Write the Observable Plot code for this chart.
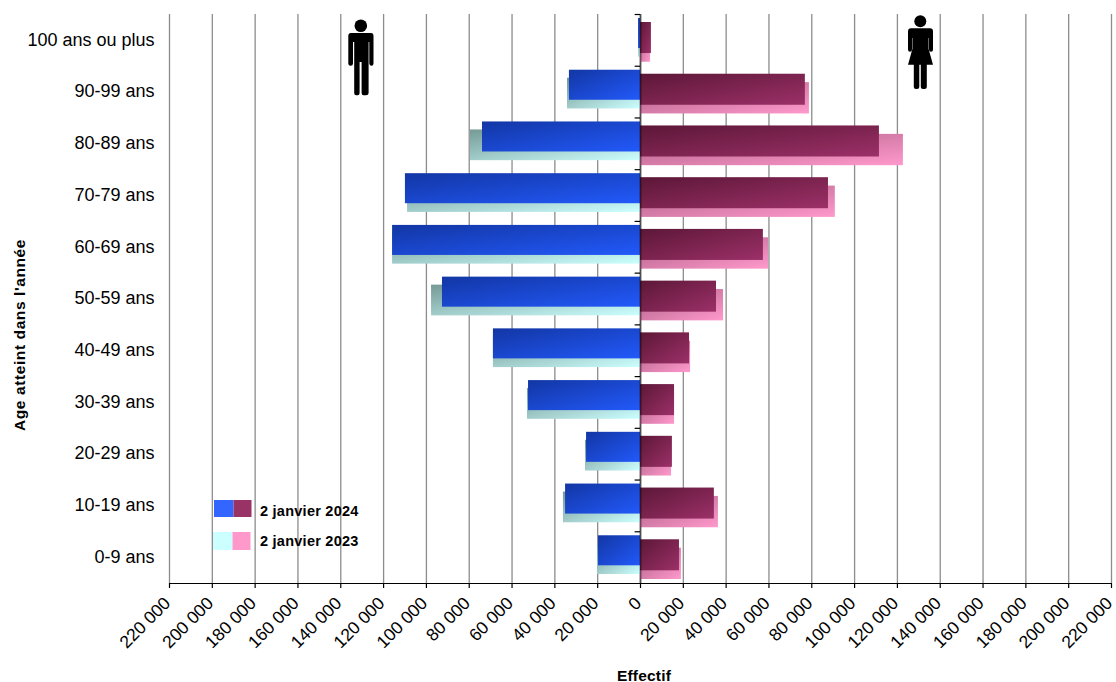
<!DOCTYPE html>
<html><head><meta charset="utf-8">
<script src="https://cdn.jsdelivr.net/npm/d3@7"></script>
<script src="https://cdn.jsdelivr.net/npm/@observablehq/plot@0.6"></script>
<style>html,body{margin:0;padding:0;background:#fff}svg{display:block}</style>
</head><body><div id="chart"></div>
<script>
const ages = ["100 ans ou plus","90-99 ans","80-89 ans","70-79 ans","60-69 ans","50-59 ans","40-49 ans","30-39 ans","20-29 ans","10-19 ans","0-9 ans"];
const male2024 = [900,33200,73800,109800,115800,92500,68700,52300,25200,35000,19600];
const male2023 = [900,34100,79400,108800,115800,97600,68700,52800,25700,36000,20100];
const female2024 = [5100,77000,111600,87800,57400,35500,22900,15900,14900,34500,18200];
const female2023 = [4700,78900,122800,91000,59800,38800,23400,15900,14500,36400,19100];
const xTicks = [-220000,-200000,-180000,-160000,-140000,-120000,-100000,-80000,-60000,-40000,-20000,0,20000,40000,60000,80000,100000,120000,140000,160000,180000,200000,220000];
const legendLabels = ["2 janvier 2024","2 janvier 2023"];
const xTitle = "Effectif";
const yTitle = "Age atteint dans l'année";
const gradients = {
  m24:["#1236a4","#2259fa"], m23:["#769a96","#ccffff"],
  f24:["#5c1737","#9c3068"], f23:["#ad5f85","#ff99cc"]
};
const font = "'Liberation Sans', Arial, sans-serif";
const fmt = d => d3.format(",")(Math.abs(d)).replace(/,/g," ");

function defs(){
  const d = d3.create("svg:defs");
  for (const [id,[a,b]] of Object.entries(gradients)){
    const g = d.append("linearGradient").attr("id",id).attr("x1",0).attr("y1",0).attr("x2",1).attr("y2",1);
    g.append("stop").attr("offset","0%").attr("stop-color",a);
    g.append("stop").attr("offset","100%").attr("stop-color",b);
  }
  return d.node();
}
function annotations(){
  const g = d3.create("svg:g").attr("text-anchor","start");
  const man = g.append("g").attr("fill","#000");
  man.append("circle").attr("cx",360.8).attr("cy",25.7).attr("r",6.3);
  man.append("path").attr("d","M351 33H371Q373.5 33 373.5 36V63.5Q373.5 65.8 371.5 65.8Q369.6 65.8 369.3 63.5V42H368.6V93Q368.6 95.2 366 95.2H363.6Q361.6 95.2 361.6 93V62H359.6V93Q359.6 95.2 357.6 95.2H356.2Q354.2 95.2 354.2 93V42H353V63.5Q353 65.8 350.6 65.8Q348.3 65.8 348.3 63.5V36Q348.3 33 351 33Z");
  const woman = g.append("g").attr("fill","#000");
  woman.append("circle").attr("cx",920.3).attr("cy",21.3).attr("r",6);
  woman.append("path").attr("d","M911 28.3H930Q933 28.3 933 31.5V49.5Q933 51.7 931 51.7Q929 51.7 929 49.5V38H928.6V49L933 64.7H926.8V87Q926.8 89 924.5 89H923Q920.8 89 920.8 87V64.7H919.3V87Q919.3 89 917 89H916Q913.8 89 913.8 87V64.7H908L912.4 49V38H912V49.5Q912 51.7 910 51.7Q908 51.7 908 49.5V31.5Q908 28.3 911 28.3Z");
  const swatches = [
    [[214,500,19.5,17,"#3366ff"],[233.5,500,18,17,"#993366"]],
    [[213,532,19.5,18,"#ccffff"],[232.5,532,18,18,"#ff99cc"]]
  ];
  swatches.forEach((row,i)=>{
    row.forEach(([x,y,w,h,c])=>g.append("rect").attr("x",x).attr("y",y).attr("width",w).attr("height",h).attr("fill",c));
    g.append("text").attr("x",260).attr("y",i?546:515.5).attr("text-anchor","start").attr("font-family",font).attr("font-weight","bold")
     .attr("font-size",14.5).attr("letter-spacing",0.25).attr("fill","#000").text(legendLabels[i]);
  });
  g.append("text").attr("x",644).attr("y",680.5).attr("text-anchor","middle").attr("font-family",font)
   .attr("font-weight","bold").attr("font-size",15.5).attr("letter-spacing",0.2).attr("fill","#000").text(xTitle);
  g.append("text").attr("transform","translate(25,335) rotate(-90)").attr("text-anchor","middle").attr("font-family",font)
   .attr("font-weight","bold").attr("font-size",15.5).attr("letter-spacing",0.6).attr("fill","#000").text(yTitle);
  return g.node();
}
const bars = (values, sign, fill, insetTop, insetBottom) =>
  Plot.barX(ages,{y:d=>d, x:(d,i)=>sign*values[i], fill:`url(#${fill})`, insetTop, insetBottom});

const chart = Plot.plot({
  width:1116, height:682,
  marginLeft:169, marginRight:5, marginTop:14, marginBottom:99,
  style:{fontFamily:font, background:"#fff", color:"#000"},
  x:{domain:[-220000,220000]},
  y:{domain:ages, padding:0, round:false},
  marks:[
    defs,
    Plot.ruleX(xTicks,{stroke:"#8c8c8c", strokeWidth:1.3}),
    bars(male2023,-1,"m23",12,9),
    bars(female2023,1,"f23",16.4,4),
    bars(male2024,-1,"m24",4,17.7),
    bars(female2024,1,"f24",8,12.7),
    Plot.ruleX([0],{stroke:"#000", strokeOpacity:0.45, strokeWidth:2}),
    Plot.ruleY(ages,{y:d=>d, x1:-2500, x2:0, dy:-25.86, stroke:"#000", strokeWidth:1.2}),
    Plot.ruleY(ages.slice(-1),{y:d=>d, x1:-220000, x2:220000, dy:25.86, stroke:"#000", strokeWidth:1.2}),
    Plot.axisY({anchor:"left", tickSize:0, tickPadding:15, fontSize:18, label:null, dy:-0.5}),
    Plot.axisX(xTicks,{tickSize:5, tickFormat:()=>"", label:null, stroke:"#000", strokeWidth:1.2}),
    Plot.axisX(xTicks,{tickSize:0, tickRotate:-45, tickFormat:fmt, fontSize:17.5, label:null, tickPadding:17, dx:-2}),
    annotations
  ]
});
document.getElementById("chart").appendChild(chart);
</script></body></html>
